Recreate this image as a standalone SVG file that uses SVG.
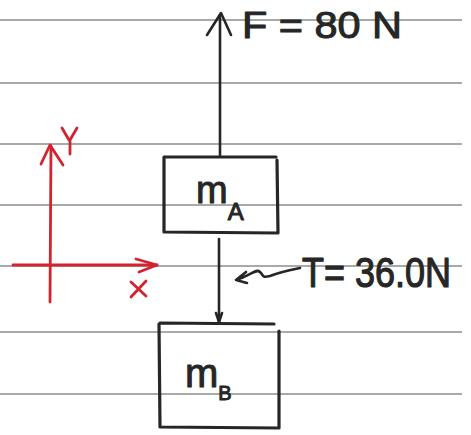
<svg xmlns="http://www.w3.org/2000/svg" width="471" height="435" viewBox="0 0 471 435">
<style>
.rule{stroke:#8c8c8c;stroke-width:1.3;fill:none}
.box{fill:none;stroke:#262626;stroke-width:3.2;stroke-linejoin:round;stroke-linecap:round}
.ink{fill:none;stroke:#262626;stroke-width:2.6;stroke-linecap:round;stroke-linejoin:round}
.red{fill:none;stroke:#d2232f;stroke-width:2.8;stroke-linecap:round;stroke-linejoin:round}
.lbl{font-family:"Liberation Sans",Arial,sans-serif;fill:#262626;stroke:#262626;stroke-width:1;stroke-linejoin:round}
</style>
<rect width="471" height="435" fill="#ffffff"/>
<g id="paper">
<line class="rule" x1="0" y1="20" x2="462" y2="20"/>
<line class="rule" x1="0" y1="83" x2="462" y2="83"/>
<line class="rule" x1="0" y1="144" x2="462" y2="144"/>
<line class="rule" x1="0" y1="205" x2="462" y2="205"/>
<line class="rule" x1="0" y1="266" x2="462" y2="266"/>
<line class="rule" x1="0" y1="332" x2="462" y2="332"/>
<line class="rule" x1="0" y1="394" x2="462" y2="394"/>
</g>
<g id="axes">
<line class="red" x1="50" y1="302" x2="51" y2="146"/>
<polyline class="red" points="41,164 50,145 63,165"/>
<line class="red" x1="13" y1="265" x2="157" y2="265"/>
<polyline class="red" points="136,259 157,265 139,272"/>
<path class="red" d="M62,128 L69,140 M77,128 L70,140 L70,154"/>
<path class="red" d="M131,282 L146,296 M146,281 L131,297"/>
</g>
<g id="connectors">
<line class="ink" x1="220" y1="155" x2="220" y2="15"/>
<polyline class="ink" points="207,35 221,13 231,35"/>
<line class="ink" x1="219" y1="239" x2="219" y2="323"/>
<polyline class="ink" points="216,313 219,322 222,313"/>
<path class="ink" d="M246,272 L236,280 L247,283 M236,280 C250,276 256,268 260,272 C264,276 262,278 270,276 C280,272 290,270 300,268"/>
</g>
<g id="mA">
<path class="box" d="M165,157 L276,157 M277,160 L278,233 L164,232 L164,157"/>
<text class="lbl" x="196" y="203" font-size="38">m<tspan font-size="24" dy="17">A</tspan></text>
</g>
<g id="mB">
<path class="box" d="M160,323 L274,324 M279,331 L279,428 L160,427 L159,324"/>
<text class="lbl" x="185" y="387" font-size="40">m<tspan font-size="20" dy="13">B</tspan></text>
</g>
<g id="labels">
<text class="lbl" x="242" y="38" font-size="36" textLength="160" lengthAdjust="spacingAndGlyphs">F = 80 N</text>
<text class="lbl" transform="translate(302,287) scale(1,1.2)" x="0" y="0" font-size="36">T= 36.0N</text>
</g>
</svg>
